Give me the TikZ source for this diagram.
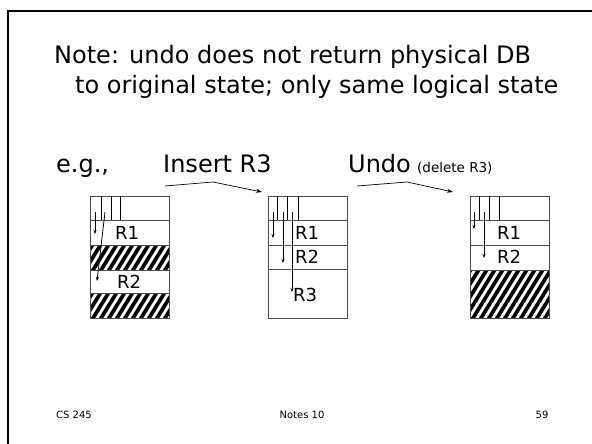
\documentclass[tikz,border=0pt]{standalone}
\usepackage{fontspec}
\setmainfont{DejaVu Sans}
\usetikzlibrary{arrows.meta}
\newcommand\hatchrect[4]{%
  \begin{scope}
    \clip (#1,#2) rectangle (#3,#4);
    \foreach \i in {-48,-40,...,100} \draw[line width=3.7pt] (#1+\i,#4+5) -- ++(48,-78);
  \end{scope}}
\begin{document}
\begin{tikzpicture}[x=1pt,y=-1pt,
  big/.style={font=\fontsize{24}{28}\selectfont, inner sep=0pt, anchor=base west},
  small/.style={font=\fontsize{13.5}{16}\selectfont, inner sep=0pt, anchor=base west},
  foot/.style={font=\fontsize{10}{12}\selectfont, inner sep=0pt, anchor=base},
  rlab/.style={font=\fontsize{18}{22}\selectfont, inner sep=0pt, anchor=west},
  boxline/.style={draw=black!70, line width=0.8pt},
  hdr/.style={draw=black, line width=0.8pt},
  ptr/.style={draw=black, line width=0.8pt, -{Stealth[length=4pt,width=3pt]}},
  flow/.style={draw=black, line width=0.7pt, -{Stealth[length=6pt,width=4pt]}}]
\useasboundingbox (0,0) rectangle (592,444);
\fill[white] (0,0) rectangle (592,444);
\draw[line width=2.2pt] (8,444) -- (8,11) -- (592,11);

\node[big] (t1) at (54,64) {Note: undo does not return physical DB};
\node[big] (t2) at (75,94) {to original state; only same logical state};
\node[big] (eg) at (56,172) {e.g.,};
\node[big] (ins) at (163,172) {Insert R3};
\node[big] (undo) at (348,172) {Undo};
\node[small] (del) at (417,172) {(delete R3)};

% flow arrows
\coordinate (f1a) at (165,186); \coordinate (f1b) at (213,182); \coordinate (f1c) at (262,192);
\draw[flow] (f1a) -- (f1b) -- (f1c);
\coordinate (f2a) at (357,186); \coordinate (f2b) at (407,182); \coordinate (f2c) at (453,192);
\draw[flow] (f2a) -- (f2b) -- (f2c);

% ---- Box 1 ----
\hatchrect{90}{245}{169}{270}
\hatchrect{90}{293}{169}{318}
\draw[boxline] (90,196) rectangle (169,318);
\draw[boxline] (90,220) -- (169,220) (90,245) -- (169,245) (90,270) -- (169,270) (90,293) -- (169,293);
\draw[hdr] (101,196) -- (101,220) (111,196) -- (111,220) (120,196) -- (120,220);
\coordinate (b1p1s) at (95,212); \coordinate (b1p1e) at (95,234);
\coordinate (b1p2s) at (105,212); \coordinate (b1p2e) at (97,281);
\draw[ptr] (b1p1s) -- (b1p1e);
\draw[ptr] (b1p2s) -- (b1p2e);
\node[rlab] (b1r1) at (115,233) {R1};
\node[rlab] (b1r2) at (117,282) {R2};

% ---- Box 2 ----
\draw[boxline] (268,196) rectangle (347,318);
\draw[boxline] (268,220) -- (347,220) (268,245) -- (347,245) (268,269) -- (347,269);
\draw[hdr] (277,196) -- (277,220) (287,196) -- (287,220) (298,196) -- (298,220);
\coordinate (b2p1s) at (273,212); \coordinate (b2p1e) at (273,238);
\coordinate (b2p2s) at (283,212); \coordinate (b2p2e) at (283,263);
\coordinate (b2p3s) at (292,212); \coordinate (b2p3e) at (292,292);
\draw[ptr] (b2p1s) -- (b2p1e);
\draw[ptr] (b2p2s) -- (b2p2e);
\draw[ptr] (b2p3s) -- (b2p3e);
\node[rlab] (b2r1) at (295,233) {R1};
\node[rlab] (b2r2) at (295,257) {R2};
\node[rlab] (b2r3) at (293,295) {R3};

% ---- Box 3 ----
\hatchrect{470}{270}{549}{318}
\draw[boxline] (470,196) rectangle (549,318);
\draw[boxline] (470,220) -- (549,220) (470,245) -- (549,245) (470,270) -- (549,270);
\draw[hdr] (479,196) -- (479,220) (489,196) -- (489,220) (499,196) -- (499,220);
\coordinate (b3p1s) at (474,212); \coordinate (b3p1e) at (474,229);
\coordinate (b3p2s) at (484,212); \coordinate (b3p2e) at (484,258);
\draw[ptr] (b3p1s) -- (b3p1e);
\draw[ptr] (b3p2s) -- (b3p2e);
\node[rlab] (b3r1) at (497,233) {R1};
\node[rlab] (b3r2) at (497,257) {R2};

% footer
\node[foot] (cs) at (74,418) {CS 245};
\node[foot] (notes) at (302,418) {Notes 10};
\node[foot] (num) at (542,418) {59};
\end{tikzpicture}
\end{document}
